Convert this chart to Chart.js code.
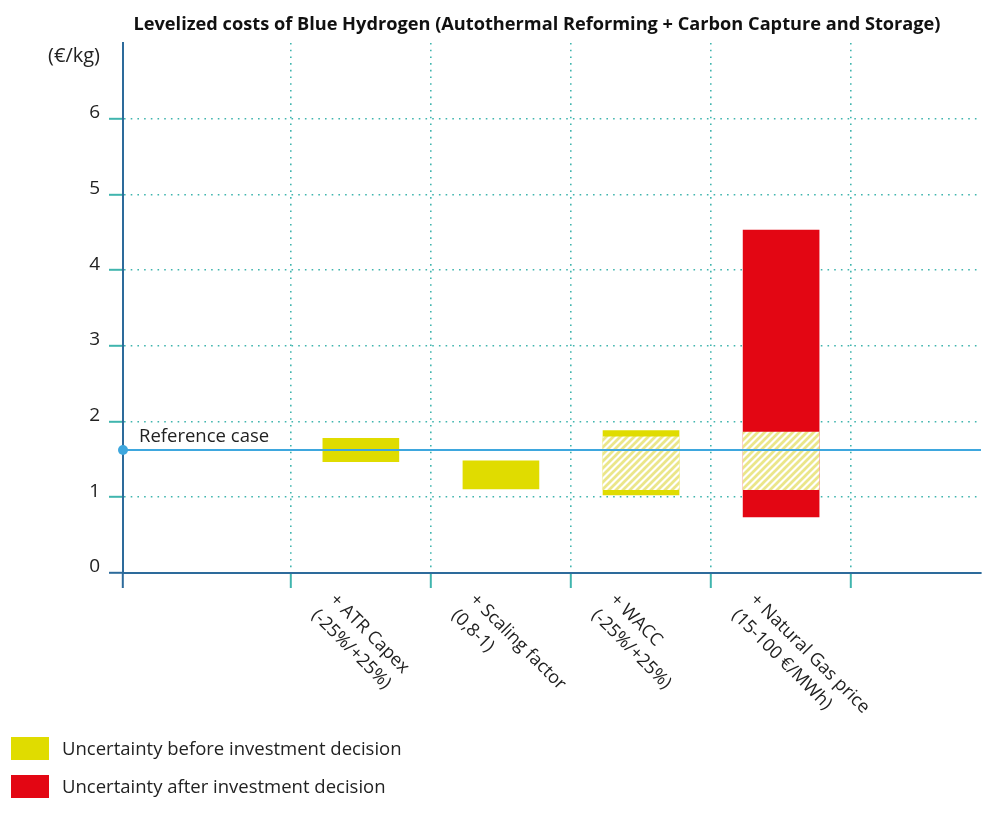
<!DOCTYPE html>
<html>
<head>
<meta charset="utf-8">
<script src="https://cdn.jsdelivr.net/npm/chart.js@4"></script>
<style>
  html, body { margin: 0; padding: 0; background: #ffffff; }
  #wrap { width: 986px; height: 826px; position: relative; }
</style>
</head>
<body>
<div id="wrap"><canvas id="c" width="986" height="826"></canvas></div>
<script>
// ---- data ----
const chartTitle = "Levelized costs of Blue Hydrogen (Autothermal Reforming + Carbon Capture and Storage)";
const yUnit = "(€/kg)";
const categories = [
  ["+ ATR Capex", "(-25%/+25%)"],
  ["+ Scaling factor", "(0,8-1)"],
  ["+ WACC", "(-25%/+25%)"],
  ["+ Natural Gas price", "(15-100 €/MWh)"]
];
const yTicks = [0, 1, 2, 3, 4, 5, 6];
const referenceCase = 1.625;
const referenceLabel = "Reference case";
// uncertainty before investment decision (solid yellow)
const beforeLow  = [1.47, 1.11, 1.03, null];
const beforeHigh = [1.78, 1.48, 1.88, null];
// overlap zone (hatched)
const hatchLow  = [null, null, 1.10, 1.10];
const hatchHigh = [null, null, 1.80, 1.86];
// uncertainty after investment decision (solid red)
const afterLow  = [null, null, null, 0.74];
const afterHigh = [null, null, null, 4.53];
const legendLabels = ["Uncertainty before investment decision", "Uncertainty after investment decision"];

// ---- styles ----
const YELLOW = '#e0dc00';
const HATCH = '#ebe68a';
const RED = '#e30613';
const AXIS = '#2d6b9b';
const GRID = '#40b5ae';
const REF = '#3ea7de';
const TEXT = '#222222';
const FONT = '"Open Sans", "Noto Sans", sans-serif';

function toPoints(lo, hi) {
  const pts = [];
  categories.forEach((c, i) => {
    if (lo[i] !== null && hi[i] !== null) pts.push({ x: i + 1, y: [lo[i], hi[i]] });
  });
  return pts;
}

function makeHatch() {
  const s = 7;
  const p = document.createElement('canvas');
  p.width = s; p.height = s;
  const g = p.getContext('2d');
  g.fillStyle = '#ffffff';
  g.fillRect(0, 0, s, s);
  g.strokeStyle = HATCH;
  g.lineWidth = 2.8;
  g.beginPath();
  g.moveTo(-1, s + 1); g.lineTo(s + 1, -1);
  g.moveTo(-2, 2); g.lineTo(2, -2);
  g.moveTo(s - 2, s + 2); g.lineTo(s + 2, s - 2);
  g.stroke();
  return document.getElementById('c').getContext('2d').createPattern(p, 'repeat');
}

const X_MIN = -0.698, X_MAX = 5.427;

const textPlugin = {
  id: 'texts',
  afterDraw(chart) {
    const ctx = chart.ctx;
    const xs = chart.scales.x, ys = chart.scales.y;
    ctx.save();
    // title
    ctx.fillStyle = '#111';
    ctx.font = 'bold 18.5px ' + FONT;
    ctx.textBaseline = 'alphabetic';
    ctx.textAlign = 'left';
    const tw = ctx.measureText(chartTitle).width;
    const target = 807;
    const sx = Math.min(1, target / tw);
    ctx.save();
    ctx.translate(537 - target / 2, 30);
    ctx.scale(sx, 1);
    ctx.fillText(chartTitle, 0, 0);
    ctx.restore();

    // unit
    ctx.fillStyle = TEXT;
    ctx.font = '500 20px ' + FONT;
    ctx.textAlign = 'right';
    ctx.fillText(yUnit, 100, 62);

    // reference label
    ctx.textAlign = 'left';
    ctx.font = '18.5px ' + FONT;
    ctx.fillText(referenceLabel, 139, ys.getPixelForValue(referenceCase) - 8);

    // rotated category labels
    ctx.font = '500 18px ' + FONT;
    categories.forEach((lines, i) => {
      const px = xs.getPixelForValue(i + 1);
      ctx.save();
      ctx.translate(px, ys.bottom);
      ctx.rotate(Math.PI / 4);
      ctx.textAlign = 'left';
      lines.forEach((ln, j) => {
        ctx.fillText(ln, -3 + (j === 0 ? 0 : -2), 42 + j * 24);
      });
      ctx.restore();
    });

    // legend
    const colors = [YELLOW, RED];
    legendLabels.forEach((lab, i) => {
      const y0 = 737 + i * 38;
      ctx.fillStyle = colors[i];
      ctx.fillRect(11, y0, 38, 23);
      ctx.fillStyle = TEXT;
      ctx.font = '18.5px ' + FONT;
      ctx.textAlign = 'left';
      ctx.fillText(lab, 62, y0 + 18);
    });
    ctx.restore();
  }
};

const hatch = makeHatch();

new Chart(document.getElementById('c'), {
  data: {
    datasets: [
      {
        type: 'line',
        label: referenceLabel,
        data: [{ x: X_MIN, y: referenceCase }, { x: X_MAX, y: referenceCase }],
        borderColor: REF,
        backgroundColor: REF,
        borderWidth: 2,
        pointRadius: [5, 0],
        pointHoverRadius: [5, 0],
        pointBorderWidth: 0,
        pointBackgroundColor: REF,
        clip: false,
        order: 0
      },
      {
        type: 'bar',
        label: 'overlap',
        data: toPoints(hatchLow, hatchHigh),
        backgroundColor: hatch,
        borderWidth: 0,
        order: 1
      },
      {
        type: 'bar',
        label: legendLabels[0],
        data: toPoints(beforeLow, beforeHigh),
        backgroundColor: YELLOW,
        borderWidth: 0,
        order: 2
      },
      {
        type: 'bar',
        label: legendLabels[1],
        data: toPoints(afterLow, afterHigh),
        backgroundColor: RED,
        borderWidth: 0,
        order: 3
      }
    ]
  },
  options: {
    responsive: false,
    animation: false,
    events: [],
    layout: { padding: { left: 0, right: 4, top: 43, bottom: 0 } },
    datasets: { bar: { grouped: false, barThickness: 76 } },
    plugins: {
      legend: { display: false },
      title: { display: false },
      tooltip: { enabled: false }
    },
    scales: {
      x: {
        type: 'linear',
        min: X_MIN,
        max: X_MAX,
        offset: false,
        afterBuildTicks(scale) {
          const t = [{ value: X_MIN }];
          for (let i = 0; i <= categories.length; i++) t.push({ value: i + 0.5 });
          scale.ticks = t;
        },
        afterFit(scale) { scale.height = 826 - 573; },
        ticks: { callback: () => '', autoSkip: false, maxRotation: 0 },
        grid: {
          offset: false,
          color: GRID,
          lineWidth: 1.6,
          drawTicks: true,
          tickLength: 15,
          tickWidth: 2,
          tickBorderDash: [],
          tickColor: (ctx) => (ctx.tick && ctx.tick.value === X_MIN ? AXIS : GRID)
        },
        border: { display: true, color: AXIS, width: 2, dash: [1.6, 5.1] }
      },
      y: {
        type: 'linear',
        min: 0,
        max: 7,
        afterBuildTicks(scale) { scale.ticks = yTicks.map(v => ({ value: v })); },
        afterFit(scale) { scale.width = 123; },
        ticks: {
          color: TEXT,
          font: { family: FONT, size: 19, weight: '500' },
          padding: 9,
          labelOffset: -6,
          callback: (v) => String(v)
        },
        grid: {
          color: GRID,
          lineWidth: 1.6,
          drawTicks: true,
          tickLength: 14,
          tickWidth: 2,
          tickBorderDash: [],
          tickColor: (ctx) => (ctx.tick && ctx.tick.value === 0 ? AXIS : GRID)
        },
        border: { display: true, color: AXIS, width: 2, dash: [1.6, 5.1] }
      }
    }
  },
  plugins: [textPlugin]
});
</script>
</body>
</html>
